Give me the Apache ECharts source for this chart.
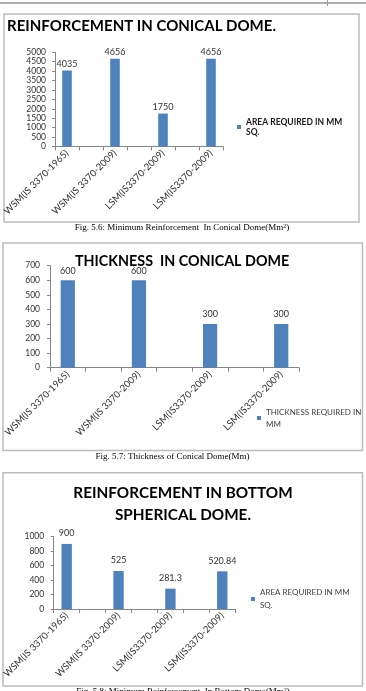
<!DOCTYPE html>
<html>
<head>
<meta charset="utf-8">
<script src="https://cdn.jsdelivr.net/npm/echarts@6/dist/echarts.min.js"></script>
<style>
  html, body { margin: 0; padding: 0; background: #fff; }
  #main { width: 366px; height: 691px; }
</style>
</head>
<body>
<div id="main"></div>
<script>
// categories (empty slots are the blank rows of the source sheet)
var categories = ['WSM(IS 3370-1965)', '', 'WSM(IS 3370-2009)', '', 'LSM(IS3370-2009)', '', 'LSM(IS3370-2009)'];

// Fig 5.6 - reinforcement in conical dome (mm sq.)
var conicalSteel = [4035, null, 4656, null, 1750, null, 4656];
var conicalSteelTicks = [0, 500, 1000, 1500, 2000, 2500, 3000, 3500, 4000, 4500, 5000];

// Fig 5.7 - thickness of conical dome (mm)
var conicalThickness = [600, null, 600, null, 300, null, 300];
var conicalThicknessTicks = [0, 100, 200, 300, 400, 500, 600, 700];

// Fig 5.8 - reinforcement in bottom spherical dome (mm sq.)
var bottomSteel = [900, null, 525, null, 281.3, null, 520.84];
var bottomSteelTicks = [0, 200, 400, 600, 800, 1000];

var areaName = 'AREA REQUIRED IN MM SQ.';
var thickName = 'THICKNESS REQUIRED IN MM';

var FONT = 'Lato, "Open Sans", sans-serif';
var SERIF = '"Liberation Serif", "DejaVu Serif", serif';
var barColor = '#4f81bd';
var axisColor = '#868686';
var labelColor = '#333';

function xAxisOf(idx) {
  return {
    type: 'category',
    gridIndex: idx,
    data: categories,
    axisLine: { lineStyle: { color: axisColor } },
    axisTick: { show: true, length: 4, lineStyle: { color: axisColor } },
    axisLabel: { interval: 0, rotate: 45, margin: 5, fontSize: 9.5, fontFamily: FONT, color: labelColor }
  };
}

function yAxisOf(idx, ticks, margin) {
  return {
    type: 'value',
    gridIndex: idx,
    min: ticks[0],
    max: ticks[ticks.length - 1],
    interval: ticks[1] - ticks[0],
    axisLine: { show: true, lineStyle: { color: axisColor } },
    axisTick: { show: true, length: 3, lineStyle: { color: axisColor } },
    splitLine: { show: false },
    axisLabel: {
      margin: margin, fontSize: 8.5, fontFamily: FONT, color: labelColor,
      formatter: function (v) { return String(v); }
    }
  };
}

function barOf(name, idx, data, dist) {
  return {
    name: name,
    type: 'bar',
    xAxisIndex: idx,
    yAxisIndex: idx,
    data: data,
    barWidth: '40%',
    itemStyle: { color: barColor },
    label: { show: true, position: 'top', distance: dist, fontSize: 9, fontFamily: FONT, color: labelColor }
  };
}

// legend text is two lines; the top padding keeps the marker level with line one
function legendOf(name, text, left, firstLineY, lh, bold, color, size) {
  return {
    data: [name],
    left: left,
    top: firstLineY - 1.5 * lh,
    orient: 'vertical',
    padding: 0,
    icon: 'rect',
    itemWidth: 4,
    itemHeight: 4,
    selectedMode: false,
    formatter: function () { return text; },
    textStyle: {
      fontFamily: FONT,
      fontSize: size,
      fontWeight: bold ? 'bold' : 'normal',
      color: color,
      lineHeight: lh,
      padding: [lh, 0, 0, 0]
    }
  };
}

function box(x, y, w, h) {
  return {
    type: 'rect',
    shape: { x: x, y: y, width: w, height: h },
    style: { fill: 'none', stroke: '#bcbcbc', lineWidth: 1.5 },
    silent: true
  };
}

function caption(cx, cy, text) {
  return {
    type: 'text',
    x: cx,
    y: cy,
    silent: true,
    style: {
      text: text,
      align: 'center', verticalAlign: 'middle',
      textAlign: 'center', textVerticalAlign: 'middle',
      font: '9px ' + SERIF,
      fill: '#000',
      rich: { sup: { fontSize: 6, fontFamily: SERIF, verticalAlign: 'top', fill: '#000' } }
    }
  };
}

var option = {
  animation: false,
  title: [
    {
      text: 'REINFORCEMENT IN CONICAL DOME.',
      left: 7, top: 16, padding: 0,
      textStyle: { fontFamily: FONT, fontWeight: 'bold', fontSize: 15, lineHeight: 20, color: '#000' }
    },
    {
      text: 'THICKNESS  IN CONICAL DOME',
      left: 75, top: 251, padding: 0,
      textStyle: { fontFamily: FONT, fontWeight: 'bold', fontSize: 14.3, lineHeight: 20, color: '#000' }
    },
    {
      text: 'REINFORCEMENT IN BOTTOM\nSPHERICAL DOME.',
      left: 'center', top: 482, padding: 0,
      textStyle: { fontFamily: FONT, fontWeight: 'bold', fontSize: 15.3, lineHeight: 22, color: '#000', align: 'center' }
    }
  ],
  legend: [
    legendOf(areaName, 'AREA REQUIRED IN MM\nSQ.', 237, 127, 10, true, '#1a1a1a', 8.5),
    legendOf(thickName, 'THICKNESS REQUIRED IN\nMM', 257, 418, 12, false, '#404040', 8),
    legendOf(areaName, 'AREA REQUIRED IN MM\nSQ.', 251, 599, 13, false, '#404040', 8)
  ],
  grid: [
    { left: 55, top: 52.3, width: 168, height: 94.2 },
    { left: 50, top: 265.7, width: 249, height: 102 },
    { left: 49.75, top: 536.7, width: 185.5, height: 72.3 }
  ],
  xAxis: [xAxisOf(0), xAxisOf(1), xAxisOf(2)],
  yAxis: [
    yAxisOf(0, conicalSteelTicks, 9),
    yAxisOf(1, conicalThicknessTicks, 10),
    yAxisOf(2, bottomSteelTicks, 9.5)
  ],
  series: [
    barOf(areaName, 0, conicalSteel, 2),
    barOf(thickName, 1, conicalThickness, 5),
    barOf(areaName, 2, bottomSteel, 6)
  ],
  graphic: [
    { type: 'rect', shape: { x: 0, y: 2, width: 366, height: 2 }, style: { fill: '#b0b0b0' }, silent: true },
    { type: 'rect', shape: { x: 327, y: 0, width: 1, height: 6 }, style: { fill: '#9a9a9a' }, silent: true },
    box(4, 14, 355, 208),
    box(3, 243, 359.5, 207.5),
    box(3, 472.7, 359.5, 213.3),
    caption(182, 228, 'Fig. 5.6: Minimum Reinforcement  In Conical Dome(Mm{sup|2})'),
    caption(172.5, 457, 'Fig. 5.7: Thickness of Conical Dome(Mm)'),
    caption(183, 692, 'Fig. 5.8: Minimum Reinforcement  In Bottom Dome(Mm{sup|2})')
  ]
};

var chart = echarts.init(document.getElementById('main'));
chart.setOption(option);
</script>
</body>
</html>
